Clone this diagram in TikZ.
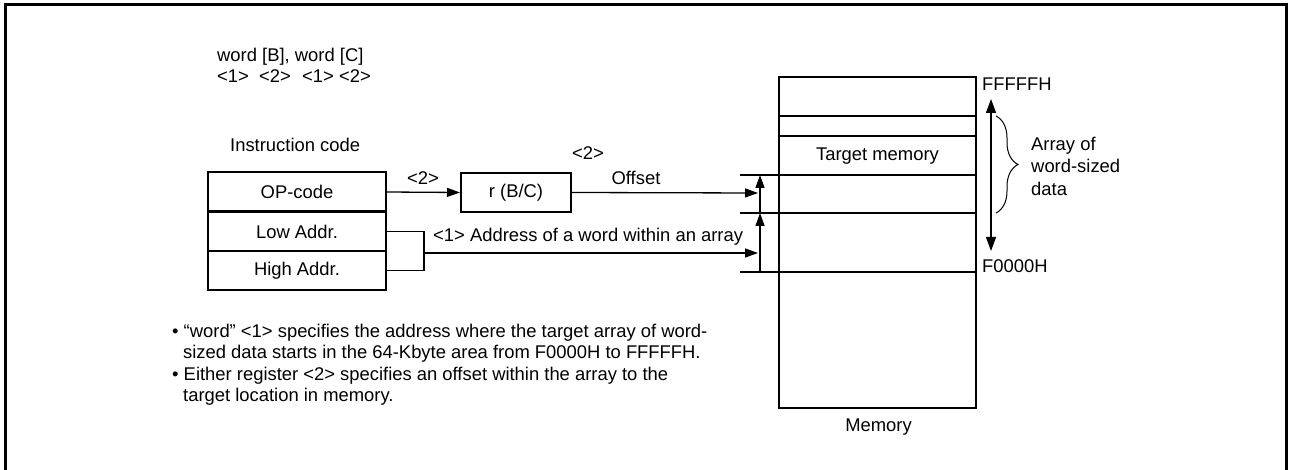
\documentclass[tikz,border=0pt]{standalone}
\usepackage{fontspec}
\setmainfont{Liberation Sans}
\usetikzlibrary{arrows.meta,decorations.pathreplacing}
\begin{document}
\begin{tikzpicture}[x=1pt,y=-1pt,
  txt/.style={inner sep=0pt, font=\fontsize{18.4}{22}\selectfont},
  lbl/.style={txt, anchor=base west},
  clbl/.style={txt, anchor=base},
  cbox/.style={draw, line width=2pt, minimum width=178pt, minimum height=39pt, inner sep=0pt, font=\fontsize{18.4}{22}\selectfont},
  conn/.style={line width=1.3pt},
  arr/.style={conn, -{Triangle[length=13pt,width=9pt]}},
  darr/.style={conn, {Triangle[length=14pt,width=10pt]}-{Triangle[length=14pt,width=10pt]}},
]
\useasboundingbox (0,0) rectangle (1289,470);
% frame
\draw[line width=3pt] (5,470) -- (5,5) -- (1286,5) -- (1286,470);

% header texts
\node[lbl] (syn) at (217,62) {word [B], word [C]};
\node[lbl] (s1) at (217,83) {<1>};
\node[lbl] (s2) at (259,83) {<2>};
\node[lbl] (s3) at (302,83) {<1>};
\node[lbl] (s4) at (339,83) {<2>};
\node[lbl] (ic) at (230,152) {Instruction code};

% instruction code boxes
\node[cbox] (op) at (297,192) {OP-code};
\node[cbox] (low) at (297,231.5) {Low Addr.};
\node[cbox] (high) at (297,270.5) {High Addr.};

% register box
\node[cbox, minimum width=110pt] (reg) at (516,192.5) {r (B/C)};

% memory
\node[draw, line width=2pt, minimum width=197pt, minimum height=331pt, inner sep=0pt] (mem) at (877.5,242.5) {};
\node[clbl] (memlbl) at (878.5,431) {Memory};
\draw[conn] (mem.west |- 0,116) -- (mem.east |- 0,116);
\draw[conn] (mem.west |- 0,136) -- (mem.east |- 0,136);
\draw[conn] (740,175) -- (mem.east |- 0,175);
\draw[conn] (740,213) -- (mem.east |- 0,213);
\draw[conn] (740,272) -- (mem.east |- 0,272);
\node[clbl] (tm) at (877.5,161) {Target memory};

% vertical arrows beside memory
\draw[arr] (760,213) -- (760,175);
\draw[arr] (760,272) -- (760,213);

% connectors
\draw[arr] (op.east) -- (reg.west);
\node[clbl] (l2a) at (423,185) {<2>};
\coordinate (offtip) at (758,193);
\draw[arr] (reg.east) -- (offtip);
\node[clbl] (l2b) at (588,160) {<2>};
\node[clbl] (offs) at (636,185) {Offset};

\draw[conn] (low.east) -- ++(37,0) coordinate (bk) |- (high.east);
\coordinate (addrtip) at (758,253);
\draw[arr] (bk |- addrtip) -- (addrtip);
\node[lbl] (addr) at (433,242) {<1> Address of a word within an array};

% addresses and range
\node[lbl] (ffh) at (982,91) {FFFFFH};
\node[lbl] (f0h) at (982,272) {F0000H};
\draw[darr] (991,99) -- (991,251);
\draw[line width=1pt, decorate, decoration={brace, amplitude=22pt}] (996,116) -- (996,213);
\node[lbl] (a1) at (1031,151) {Array of};
\node[lbl] (a2) at (1031,173) {word-sized};
\node[lbl] (a3) at (1031,196) {data};

% notes
\node[lbl] (n1) at (172,337) {• “word” <1> specifies the address where the target array of word-};
\node[lbl] (n2) at (183,358.5) {sized data starts in the 64-Kbyte area from F0000H to FFFFFH.};
\node[lbl] (n3) at (172,380) {• Either register <2> specifies an offset within the array to the};
\node[lbl] (n4) at (183,401.5) {target location in memory.};
\end{tikzpicture}
\end{document}
